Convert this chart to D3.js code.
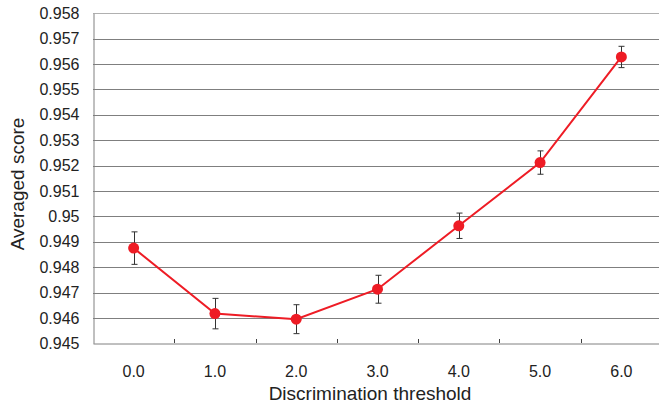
<!DOCTYPE html>
<html><head><meta charset="utf-8">
<script src="https://cdn.jsdelivr.net/npm/d3@7"></script>
<style>body{margin:0;background:#fff;}svg{display:block;font-family:"Liberation Sans",Arial,sans-serif;}</style>
</head><body>
<svg id="c" width="659" height="407"></svg>
<script>
const categories = ["0.0","1.0","2.0","3.0","4.0","5.0","6.0"];
const scores = [0.94875, 0.94617, 0.94595, 0.94713, 0.94963, 0.95212, 0.95628];
const errors = [0.00064, 0.00060, 0.00057, 0.00055, 0.00050, 0.00046, 0.00042];
const yTicks = [0.945,0.946,0.947,0.948,0.949,0.95,0.951,0.952,0.953,0.954,0.955,0.956,0.957,0.958];
const xTitle = "Discrimination threshold";
const yTitle = "Averaged score";

const svg = d3.select("#c");
const L = 93, R = 662, T = 13.3, B = 343.3;
const x = d3.scaleBand().domain(categories).range([L, R]);
const y = d3.scaleLinear().domain([0.945, 0.958]).range([B, T]);

// gridlines
svg.append("g").selectAll("line").data(yTicks.slice(1)).join("line")
  .attr("x1", L).attr("x2", R)
  .attr("y1", d => Math.round(y(d)) + 0.5).attr("y2", d => Math.round(y(d)) + 0.5)
  .attr("stroke", (d,i) => i === yTicks.length - 2 ? "#b0b0b0" : "#7f7f7f").attr("stroke-width", 1);

// y axis
const ya = svg.append("g").attr("transform", `translate(${L + 0.5},0)`)
  .call(d3.axisLeft(y).tickValues(yTicks).tickSize(0).tickPadding(14).tickFormat(d => d3.format("")(+d.toFixed(3))));
ya.select(".domain").attr("stroke", "#808080");
ya.selectAll("text").attr("font-size", 16).attr("fill", "#222").attr("font-family", "Liberation Sans, Arial, sans-serif");

// x axis
const xa = svg.append("g").attr("transform", `translate(0,${Math.round(B) + 0.5})`)
  .call(d3.axisBottom(x).tickSize(0).tickPadding(22));
xa.select(".domain").attr("stroke", "#808080");
xa.selectAll("text").attr("font-size", 16).attr("fill", "#222").attr("font-family", "Liberation Sans, Arial, sans-serif");
// category boundary ticks (inside)
svg.append("g").selectAll("line").data(categories.slice(1)).join("line")
  .attr("x1", d => Math.round(x(d)) + 0.5).attr("x2", d => Math.round(x(d)) + 0.5)
  .attr("y1", Math.round(B) - 4).attr("y2", Math.round(B))
  .attr("stroke", "#404040");

// titles
svg.append("text").attr("x", 370).attr("y", 400).attr("text-anchor", "middle")
  .attr("font-size", 19).attr("fill", "#222").text(xTitle);
svg.append("text").attr("transform", "translate(24,184) rotate(-90)").attr("text-anchor", "middle")
  .attr("font-size", 19).attr("fill", "#222").text(yTitle);

const cx = d => x(d) + x.bandwidth() / 2;
const data = categories.map((c, i) => ({c, v: scores[i], e: errors[i]}));

// line
svg.append("path").datum(data)
  .attr("d", d3.line().x(d => cx(d.c)).y(d => y(d.v)))
  .attr("fill", "none").attr("stroke", "#ee1c25").attr("stroke-width", 2);

// error bars
const eb = svg.append("g").attr("stroke", "#333").attr("stroke-width", 1);
data.forEach(d => {
  const xc = Math.round(cx(d.c)) + 0.5;
  eb.append("line").attr("x1", xc).attr("x2", xc).attr("y1", y(d.v + d.e)).attr("y2", y(d.v - d.e));
  eb.append("line").attr("x1", xc - 3).attr("x2", xc + 3).attr("y1", y(d.v + d.e)).attr("y2", y(d.v + d.e));
  eb.append("line").attr("x1", xc - 3).attr("x2", xc + 3).attr("y1", y(d.v - d.e)).attr("y2", y(d.v - d.e));
});

// markers
svg.append("g").selectAll("circle").data(data).join("circle")
  .attr("cx", d => cx(d.c)).attr("cy", d => y(d.v)).attr("r", 5.5)
  .attr("fill", "#ee1c25");
</script>
</body></html>
